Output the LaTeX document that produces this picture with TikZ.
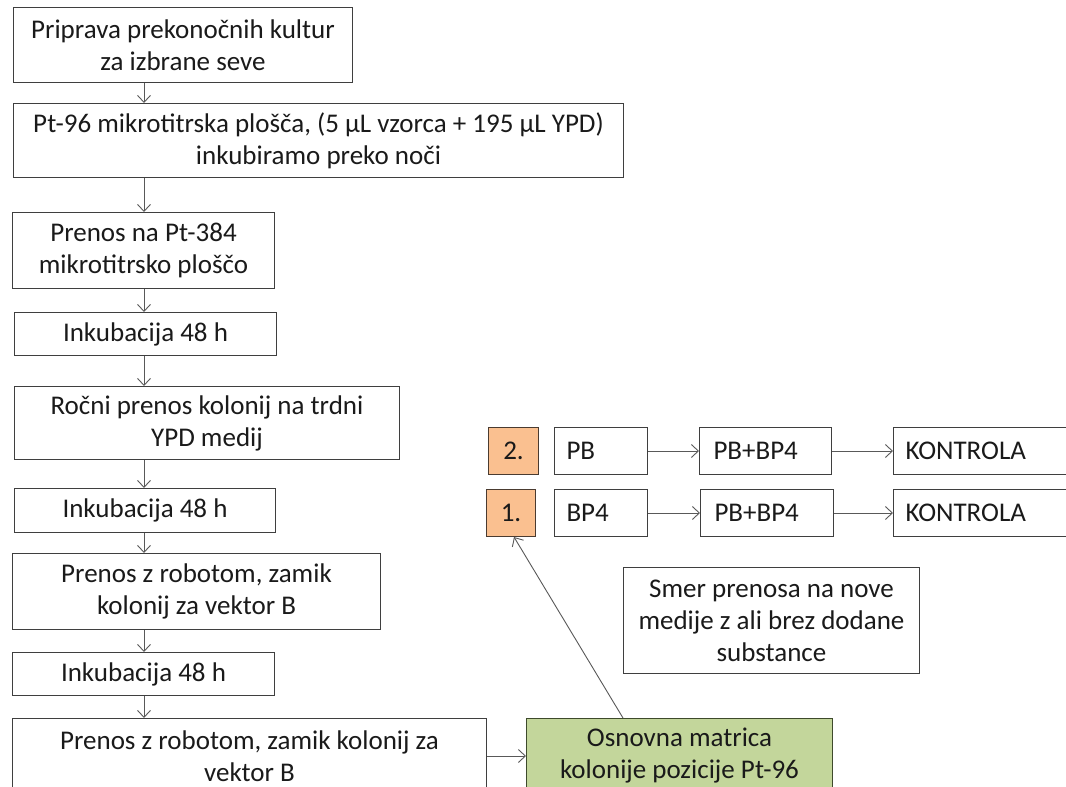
\documentclass[tikz,border=0pt]{standalone}
\usepackage{fontspec}
\setmainfont{Carlito}
\usetikzlibrary{arrows.meta,calc}
\definecolor{boxline}{HTML}{3F3F3F}
\definecolor{arrline}{HTML}{595959}
\definecolor{orangefill}{HTML}{FAC090}
\definecolor{orangeline}{HTML}{4A3B30}
\definecolor{greenfill}{HTML}{C3D69B}
\definecolor{greenline}{HTML}{3E4A2C}
\definecolor{textcol}{HTML}{1A1A1A}

\begin{document}
\begin{tikzpicture}[x=1pt,y=-1pt,
  box/.style={draw=boxline, line width=1pt, fill=white, inner sep=0pt,
    anchor=north west, align=center, text=textcol,
    font=\fontsize{27}{32}\selectfont},
  rowbox/.style={box, align=left, inner xsep=12pt, text width=#1,
    minimum height=47pt},
  numbox/.style={box, fill=orangefill, draw=orangeline, minimum height=47pt},
  flow/.style={draw=arrline, line width=0.9pt,
    -{Straight Barb[length=7pt,width=13pt]}},
]
\clip (0,0) rectangle (1066,787);
\fill[white] (0,0) rectangle (1066,787);

% main column of steps
\node[box, minimum width=339pt, minimum height=75pt] (b1) at (13,7)
  {Priprava prekonočnih kultur\\za izbrane seve};
\node[box, minimum width=610pt, minimum height=74pt] (b2) at (13,103)
  {Pt-96 mikrotitrska plošča, (5 µL vzorca + 195 µL YPD)\\inkubiramo preko noči};
\node[box, minimum width=262pt, minimum height=76pt] (b3) at (12,212)
  {Prenos na Pt-384\\mikrotitrsko ploščo};
\node[box, minimum width=262pt, minimum height=43pt] (b4) at (14,312)
  {Inkubacija 48 h};
\node[box, minimum width=385pt, minimum height=73pt] (b5) at (14,386)
  {Ročni prenos kolonij na trdni\\YPD medij};
\node[box, minimum width=261pt, minimum height=44pt] (b6) at (14,488)
  {Inkubacija 48 h};
\node[box, minimum width=368pt, minimum height=76pt] (b7) at (12,553)
  {Prenos z robotom, zamik\\kolonij za vektor B};
\node[box, minimum width=262pt, minimum height=43pt] (b8) at (12,652)
  {Inkubacija 48 h};
\node[box, minimum width=474pt, minimum height=75pt] (b9) at (12,718)
  {Prenos z robotom, zamik kolonij za\\vektor B};

% base matrix and note
\node[box, fill=greenfill, draw=greenline, minimum width=306pt,
  minimum height=75pt] (green) at (526,718)
  {Osnovna matrica\\kolonije pozicije Pt-96};
\node[box, minimum width=296pt, minimum height=106pt] (smer) at (623,567)
  {Smer prenosa na nove\\medije z ali brez dodane\\substance};

% transfer sequences
\node[numbox, minimum width=50pt] (o2) at (488,427) {2.};
\node[rowbox=69pt] (pb) at (554,427) {PB};
\node[rowbox=104pt, inner xsep=14pt] (pbbpa) at (699,427) {PB+BP4};
\node[rowbox=166pt] (ka) at (893,427) {KONTROLA};

\node[numbox, minimum width=49pt] (o1) at (486,489) {1.};
\node[rowbox=69pt] (bp4) at (554,489) {BP4};
\node[rowbox=105pt, inner xsep=14pt] (pbbpb) at (700,489) {PB+BP4};
\node[rowbox=166pt] (kb) at (893,489) {KONTROLA};

% connectors
\coordinate (ax) at (144,0);
\draw[flow] (b1.south -| ax) -- (b2.north -| ax);
\draw[flow] (b2.south -| ax) -- (b3.north -| ax);
\draw[flow] (b3.south -| ax) -- (b4.north -| ax);
\draw[flow] (b4.south -| ax) -- (b5.north -| ax);
\draw[flow] (b5.south -| ax) -- (b6.north -| ax);
\draw[flow] (b6.south -| ax) -- (b7.north -| ax);
\draw[flow] (b7.south -| ax) -- (b8.north -| ax);
\draw[flow] (b8.south -| ax) -- (b9.north -| ax);
\draw[flow] (b9.east) -- (green.west);

\coordinate (gtop) at (623,718);
\draw[flow] (gtop) -- ($(o1.south)+(3,0)$);

\draw[flow] (pb.east) -- (pbbpa.west);
\draw[flow] (pbbpa.east) -- (ka.west);
\draw[flow] (bp4.east) -- (pbbpb.west);
\draw[flow] (pbbpb.east) -- (kb.west);
\end{tikzpicture}
\end{document}
